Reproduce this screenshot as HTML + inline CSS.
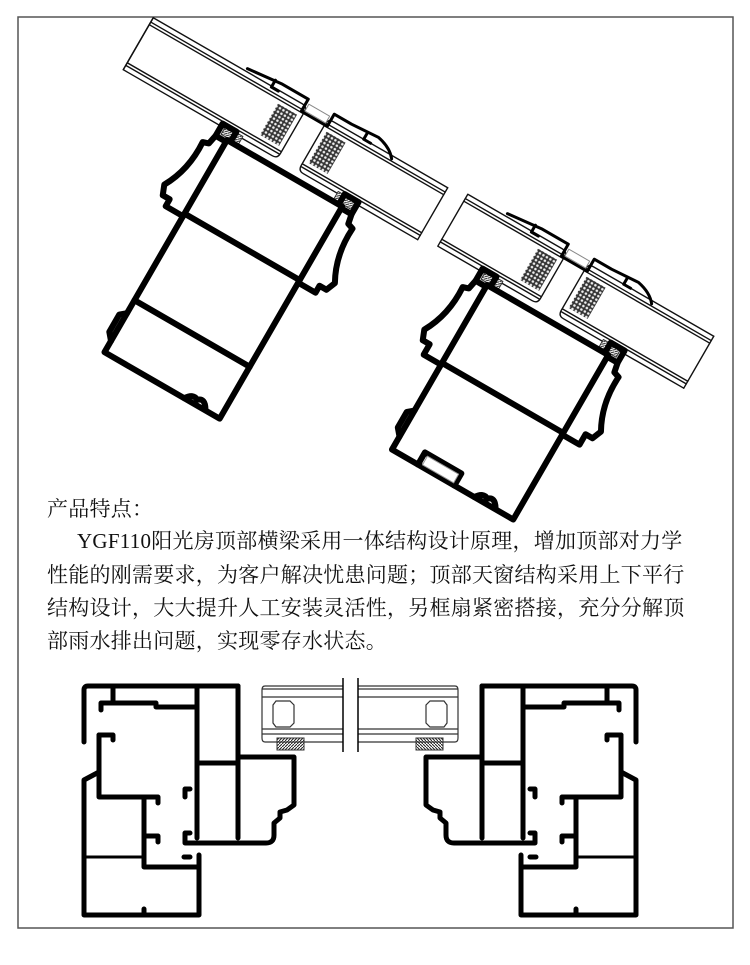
<!DOCTYPE html>
<html><head><meta charset="utf-8">
<style>
html,body{margin:0;padding:0;background:#fff;}
body{width:750px;height:965px;position:relative;overflow:hidden;}
.t{position:absolute;white-space:nowrap;font-family:"Liberation Serif","Noto Serif CJK SC",serif;color:#111;font-size:21px;line-height:24px;letter-spacing:0.25px;}
svg{position:absolute;left:0;top:0;}
</style></head><body>
<svg width="750" height="965" viewBox="0 0 750 965">
<defs>
<pattern id="dots" width="4" height="4" patternUnits="userSpaceOnUse">
<rect width="4" height="4" fill="#333"/><circle cx="2" cy="2" r="1.3" fill="#eee"/></pattern>
<pattern id="hatch" width="3" height="3" patternUnits="userSpaceOnUse">
<rect width="3" height="3" fill="#fff"/><path d="M0,3 L3,0" stroke="#222" stroke-width="1"/></pattern>
</defs>
<rect x="18" y="17" width="715" height="911" fill="none" stroke="#555" stroke-width="1.5"/>

<!-- LEFT TOP ASSEMBLY -->
<g transform="translate(227,140) rotate(30)" stroke-linejoin="round" stroke-linecap="round">
 <g fill="#fff" stroke="#111" stroke-width="1.4">
  <path d="M-125,-69 L47,-69 Q53,-69 53,-63 L53,-15 Q53,-9 47,-9 L-125,-9 Z"/>
  <path d="M215,-69 L83,-69 Q77,-69 77,-63 L77,-15 Q77,-9 83,-9 L215,-9"/>
  <path d="M-125,-64 L52,-64 M-125,-61 L52,-61 M-125,-17 L52,-17 M-125,-14 L52,-14 M78,-64 L215,-64 M78,-61 L215,-61 M78,-17 L215,-17 M78,-14 L215,-14"/>
  <path d="M-125,-69 L-125,-9 M215,-69 L215,-9"/>
 </g>
 <rect x="26" y="-57" width="22" height="36" fill="url(#dots)"/>
 <rect x="82" y="-57" width="22" height="36" fill="url(#dots)"/>
 <path d="M-18,-72 L20,-76 L40,-76 L50,-76 L50,-62 L80,-62 L80,-76 L100,-76 L130,-78 Q145,-75 152,-66" fill="none" stroke="#000" stroke-width="3"/>
 <path d="M12,-76 L12,-68 L20,-68 M118,-77 L118,-69 L126,-69" fill="none" stroke="#000" stroke-width="3"/>
 <rect x="53" y="-72" width="24" height="8" fill="#fff" stroke="#888" stroke-width="1"/>
 <rect x="-8" y="-11" width="20" height="9" fill="url(#hatch)" stroke="#333" stroke-width="1"/>
 <rect x="122" y="-11" width="20" height="9" fill="url(#hatch)" stroke="#333" stroke-width="1"/>
 <g fill="none" stroke="#000" stroke-width="6">
  <rect x="0" y="0" width="133" height="245"/>
  <path d="M0,85 L133,85 M0,185 L133,185"/>
  <path d="M0,2 L-12,2 L-12,-12 L4,-12 L4,-4"/>
  <path d="M-12,2 L-14,12 L-20,14 Q-18,45 -32,70 L-28,80 L-20,80 L-20,88 L0,88"/>
  <path d="M133,2 L145,2 L145,-12 L129,-12 L129,-4"/>
  <path d="M145,2 L147,12 L153,14 Q151,45 165,70 L161,80 L153,80 L153,88 L133,88"/>
  <path d="M0,200 L-6,205 L-6,225 L0,232"/>
  <path d="M92,245 Q98,236 104,240 Q110,234 116,244"/>
 </g>
</g>

<!-- RIGHT TOP ASSEMBLY -->
<g transform="translate(487,285) rotate(30)" stroke-linejoin="round" stroke-linecap="round">
 <g fill="#fff" stroke="#111" stroke-width="1.4">
  <path d="M-62,-69 L47,-69 Q53,-69 53,-63 L53,-15 Q53,-9 47,-9 L-62,-9 Z"/>
  <path d="M222,-69 L83,-69 Q77,-69 77,-63 L77,-15 Q77,-9 83,-9 L222,-9"/>
  <path d="M-62,-64 L52,-64 M-62,-61 L52,-61 M-62,-17 L52,-17 M-62,-14 L52,-14 M78,-64 L222,-64 M78,-61 L222,-61 M78,-17 L222,-17 M78,-14 L222,-14"/>
  <path d="M222,-69 L222,-9"/>
 </g>
 <rect x="26" y="-57" width="22" height="36" fill="url(#dots)"/>
 <rect x="82" y="-57" width="22" height="36" fill="url(#dots)"/>
 <path d="M-18,-72 L20,-76 L40,-76 L50,-76 L50,-62 L80,-62 L80,-76 L100,-76 L130,-78 Q145,-75 152,-66" fill="none" stroke="#000" stroke-width="3"/>
 <path d="M12,-76 L12,-68 L20,-68 M118,-77 L118,-69 L126,-69" fill="none" stroke="#000" stroke-width="3"/>
 <rect x="53" y="-72" width="24" height="8" fill="#fff" stroke="#888" stroke-width="1"/>
 <rect x="-8" y="-11" width="20" height="9" fill="url(#hatch)" stroke="#333" stroke-width="1"/>
 <rect x="128" y="-11" width="20" height="9" fill="url(#hatch)" stroke="#333" stroke-width="1"/>
 <g fill="none" stroke="#000" stroke-width="6">
  <rect x="0" y="0" width="140" height="190"/>
  <path d="M0,90 L140,90"/>
  <path d="M0,2 L-12,2 L-12,-12 L4,-12 L4,-4"/>
  <path d="M-12,2 L-14,12 L-20,14 Q-18,45 -32,70 L-28,80 L-20,80 L-20,92 L0,92"/>
  <path d="M140,2 L152,2 L152,-12 L136,-12 L136,-4"/>
  <path d="M152,2 L154,12 L160,14 Q158,45 172,70 L168,80 L160,80 L160,92 L140,92"/>
  <path d="M0,145 L-6,150 L-6,168 L0,175"/>
  <path d="M30,190 L30,176 L72,176 L72,190"/>
  <path d="M95,190 Q101,181 107,185 Q113,179 119,189"/>
 </g>
 <rect x="34" y="178" width="36" height="10" fill="#fff" stroke="#999" stroke-width="1"/>
</g>

<!-- BOTTOM LEFT -->
<g id="bl" fill="none" stroke="#000" stroke-width="5" stroke-linejoin="round" stroke-linecap="round">
 <path d="M84,742 L84,690 Q84,686 88,686 L238,686"/>
 <path d="M113,686 L113,702"/>
 <path d="M101,710 L101,703 L156,703 L156,707 L195,707"/>
 <path d="M197,686 L197,838 M238,686 L238,838 M197,763 L238,763"/>
 <path d="M185,838 L185,843 L266,843 Q274,843 274,835 L274,823 L280,818 L280,812 L287,810 L294,805 L294,757 L238,757"/>
 <path d="M190,789 L185,789 L185,797 M190,833 L185,833 L185,838"/>
 <path d="M99,742 L99,735 L113,735 L113,740"/>
 <path d="M99,735 L99,797 L158,797 L158,803"/>
 <path d="M144,797 L144,867 L199,867 L199,915 L84,915 L84,780 L99,772"/>
 <path d="M144,836 L158,836 L158,842"/>
 <path d="M84,857 L144,857" stroke-width="3"/>
 <path d="M184,857 L190,857 M199,855 L199,867"/>
 <path d="M144,915 L144,909"/>
</g>
<g transform="translate(720,0) scale(-1,1)">
<use href="#bl"/>
<rect x="277" y="738" width="27" height="12" fill="url(#hatch)" stroke="#333" stroke-width="1"/>
</g>
<rect x="277" y="738" width="27" height="12" fill="url(#hatch)" stroke="#333" stroke-width="1"/>
<!-- glass bottom -->
<g fill="none" stroke="#333" stroke-width="1.2">
 <path d="M343,686 L265,686 Q262,686 262,690 L262,738 Q262,742 265,742 L343,742"/>
 <path d="M262,689 L343,689 M262,697 L343,697 M262,729 L343,729 M262,734 L343,734"/>
 <path d="M358,686 L455,686 Q458,686 458,690 L458,738 Q458,742 455,742 L358,742"/>
 <path d="M358,689 L458,689 M358,697 L458,697 M358,729 L458,729 M358,734 L458,734"/>
 <path d="M276,701 L290,701 L294,705 L294,723 L290,727 L276,727 L273,723 L273,705 Z" fill="#fff"/>
 <path d="M430,701 L444,701 L447,705 L447,723 L444,727 L430,727 L426,723 L426,705 Z" fill="#fff"/>
 <path d="M343,678 L343,752 M358,678 L358,752" stroke="#000" stroke-width="1.5"/>
</g>
</svg>

<div class="t" style="left:47px;top:497px;font-size:21px;">产品特点：</div>
<div class="t" style="left:77px;top:529px;">YGF110阳光房顶部横梁采用一体结构设计原理，增加顶部对力学</div>
<div class="t" style="left:47px;top:563px;">性能的刚需要求，为客户解决忧患问题；顶部天窗结构采用上下平行</div>
<div class="t" style="left:47px;top:596px;">结构设计，大大提升人工安装灵活性，另框扇紧密搭接，充分分解顶</div>
<div class="t" style="left:47px;top:629px;">部雨水排出问题，实现零存水状态。</div>
</body></html>
